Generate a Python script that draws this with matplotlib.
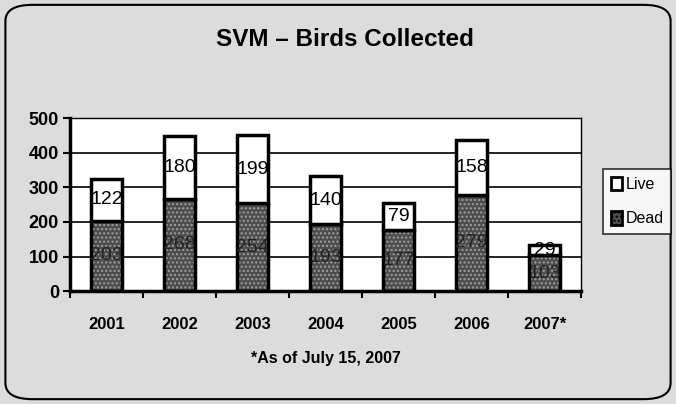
import matplotlib
matplotlib.use("Agg")
import matplotlib.pyplot as plt
from matplotlib.patches import FancyBboxPatch, Patch
import numpy as np

years = ["2001", "2002", "2003", "2004", "2005", "2006", "2007*"]
dead = [203, 268, 254, 193, 177, 279, 103]
live = [122, 180, 199, 140, 79, 158, 29]
yticks = [0, 100, 200, 300, 400, 500]

plt.rcParams['font.family'] = ['Liberation Sans', 'DejaVu Sans']

fig = plt.figure(figsize=(6.76, 4.04), dpi=100)
fig.patch.set_facecolor('#dcdcdc')

border = FancyBboxPatch((0.008, 0.012), 0.984, 0.976,
                        boxstyle="round,pad=0,rounding_size=0.04",
                        transform=fig.transFigure, facecolor='none',
                        edgecolor='black', linewidth=1.5, zorder=0)
fig.patches.append(border)

ax = fig.add_axes([70/676, 1-291/404, 511/676, (291-118.5)/404])
ax.set_facecolor('white')

x = np.arange(len(years))
w = 0.42
ax.bar(x, dead, w, color='#4d4d4d', edgecolor='#a0a0a0', hatch='....',
       linewidth=0, zorder=2)
ax.bar(x, dead, w, fill=False, edgecolor='black', linewidth=2.5, zorder=3)
ax.bar(x, live, w, bottom=dead, color='white', edgecolor='black',
       linewidth=2.5, zorder=3)

for i in range(len(years)):
    ax.text(x[i], dead[i] / 2, str(dead[i]), ha='center', va='center',
            fontsize=14, color='#222222', zorder=4)
    ax.text(x[i], dead[i] + live[i] / 2, str(live[i]), ha='center',
            va='center', fontsize=14, color='black', zorder=4)

ax.set_xlim(-0.5, len(years) - 0.5)
ax.set_ylim(0, 500)
ax.set_yticks(yticks)
ax.set_yticklabels([str(v) for v in yticks], fontsize=13, fontweight='bold')
ax.yaxis.grid(True, color='black', linewidth=1.2, zorder=1)
ax.set_axisbelow(True)
ax.set_xticks(x)
ax.set_xticklabels(years, fontsize=12, fontweight='bold')
ax.set_xticks(np.arange(len(years) + 1) - 0.5, minor=True)
ax.tick_params(axis='x', which='major', length=0, pad=19)
ax.tick_params(axis='x', which='minor', length=5, width=1.5, direction='out')
ax.tick_params(axis='y', length=5, width=1.5, direction='out', pad=3)
for s in ['left', 'bottom']:
    ax.spines[s].set_linewidth(2.5)
for s in ['top', 'right']:
    ax.spines[s].set_linewidth(1.0)

handles = [Patch(facecolor='white', edgecolor='black', linewidth=2, label='Live'),
           Patch(facecolor='#4d4d4d', edgecolor='black', hatch='....', linewidth=2, label='Dead')]
leg = fig.legend(handles=handles, loc='upper left',
                 bbox_to_anchor=(603/676, 1-169/404), frameon=True,
                 fancybox=False, edgecolor='black', fontsize=11.5,
                 handlelength=0.7, handleheight=0.9, handletextpad=0.2,
                 labelspacing=1.2, borderpad=0.5, borderaxespad=0)
leg.get_frame().set_linewidth(1.2)
leg.get_frame().set_facecolor('white')

fig.text(345/676, 1-40/404, "SVM \u2013 Birds Collected", ha='center',
         va='center', fontsize=17.5, fontweight='bold')
fig.text(326/676, 1-358/404, "*As of July 15, 2007", ha='center',
         va='center', fontsize=11.5, fontweight='bold')

fig.savefig("out.png", dpi=100, facecolor=fig.get_facecolor())
